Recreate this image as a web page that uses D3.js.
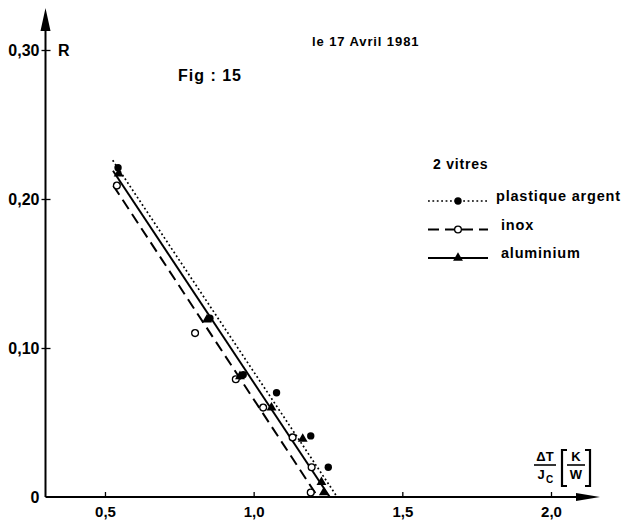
<!DOCTYPE html>
<html><head><meta charset="utf-8">
<script src="https://cdn.jsdelivr.net/npm/d3@7"></script>
<style>
body{margin:0;background:#fff}
svg{display:block}
text{font-family:"Liberation Sans",Arial,sans-serif;font-weight:bold;fill:#000}
</style>
</head><body>
<svg id="c" width="641" height="521"></svg>
<script>
// ---- data ----
const xTicks = [0.5, 1.0, 1.5, 2.0];
const xTickLabels = ["0,5", "1,0", "1,5", "2,0"];
const yTicks = [0, 0.1, 0.2, 0.3];
const yTickLabels = ["0", "0,10", "0,20", "0,30"];

const seriesNames = ["plastique argent", "inox", "aluminium"];

// plastique argent (filled dots)
const plastiqueX = [0.544, 0.853, 0.965, 1.077, 1.192, 1.251];
const plastiqueY = [0.221, 0.120, 0.082, 0.070, 0.041, 0.020];
// inox (open circles)
const inoxX = [0.540, 0.803, 0.940, 1.032, 1.131, 1.195, 1.192];
const inoxY = [0.209, 0.110, 0.079, 0.060, 0.040, 0.020, 0.003];
// aluminium (filled triangles)
const aluX = [0.546, 0.843, 0.954, 1.060, 1.165, 1.228, 1.236];
const aluY = [0.217, 0.119, 0.081, 0.060, 0.039, 0.010, 0.003];

// fitted straight lines (end points)
const plastiqueLineX = [0.526, 1.281];
const plastiqueLineY = [0.226, 0.0];
const inoxLineX = [0.528, 1.216];
const inoxLineY = [0.209, 0.0];
const aluLineX = [0.527, 1.256];
const aluLineY = [0.219, 0.0];

// ---- drawing ----
const svg = d3.select("#c");
const x = d3.scaleLinear().domain([0.3, 2.0]).range([45.5, 551]);
const y = d3.scaleLinear().domain([0, 0.3]).range([497, 50]);

const x0 = x(0.3), y0 = y(0);

// axes lines with arrows
svg.append("line").attr("x1", x0).attr("x2", x0).attr("y1", y0).attr("y2", 26)
  .attr("stroke", "#000").attr("stroke-width", 2);
svg.append("path").attr("d", `M${x0},8 L${x0-5},31 L${x0+5},31 Z`).attr("fill", "#000");
svg.append("line").attr("x1", x0).attr("x2", 580).attr("y1", y0).attr("y2", y0)
  .attr("stroke", "#000").attr("stroke-width", 2);
svg.append("path").attr("d", `M600,${y0} L576,${y0-4} L576,${y0+4} Z`).attr("fill", "#000");

// x axis ticks
const gx = svg.append("g").attr("transform", `translate(0,${y0})`)
  .call(d3.axisBottom(x).tickValues(xTicks)
    .tickFormat((d, i) => xTickLabels[i])
    .tickSizeInner(-5).tickSizeOuter(0).tickPadding(9));
gx.select(".domain").remove();
gx.selectAll(".tick line").attr("stroke", "#000").attr("stroke-width", 1.3);
gx.selectAll(".tick text").attr("font-size", 15).attr("font-family", "Liberation Sans, Arial, sans-serif")
  .attr("font-weight", "bold").attr("fill", "#000");

// y axis ticks
const gy = svg.append("g").attr("transform", `translate(${x0},0)`)
  .call(d3.axisLeft(y).tickValues(yTicks)
    .tickFormat((d, i) => yTickLabels[i])
    .tickSizeInner(4).tickSizeOuter(0).tickPadding(2));
gy.select(".domain").remove();
gy.selectAll(".tick line").attr("x1", 5).attr("stroke", "#000").attr("stroke-width", 1.3)
  .filter(d => d === 0).remove();
gy.selectAll(".tick text").attr("font-size", 16).attr("font-family", "Liberation Sans, Arial, sans-serif")
  .attr("font-weight", "bold").attr("fill", "#000").attr("dy", "0.36em");

// titles
svg.append("text").attr("x", 58).attr("y", 56).attr("font-size", 16).text("R");
svg.append("text").attr("x", 312).attr("y", 46).attr("font-size", 13).attr("letter-spacing", 0.9).text("le 17 Avril 1981");
svg.append("text").attr("x", 178).attr("y", 81).attr("font-size", 16).attr("letter-spacing", 1).text("Fig : 15");

// x axis label: ΔT/Jc [K/W]
const lab = svg.append("g");
lab.append("text").attr("x", 545).attr("y", 461).attr("font-size", 13).attr("text-anchor", "middle").text("ΔT");
lab.append("line").attr("x1", 534).attr("x2", 556).attr("y1", 465).attr("y2", 465).attr("stroke", "#000").attr("stroke-width", 1.6);
lab.append("text").attr("x", 541).attr("y", 479).attr("font-size", 13).attr("text-anchor", "middle").text("J");
lab.append("text").attr("x", 549.5).attr("y", 483).attr("font-size", 10).attr("text-anchor", "middle").text("C");
lab.append("path").attr("d", "M567,450 L562,450 L562,486 L567,486").attr("fill", "none").attr("stroke", "#000").attr("stroke-width", 2.2);
lab.append("text").attr("x", 576).attr("y", 461).attr("font-size", 13).attr("text-anchor", "middle").text("K");
lab.append("line").attr("x1", 567).attr("x2", 585).attr("y1", 465).attr("y2", 465).attr("stroke", "#000").attr("stroke-width", 1.6);
lab.append("text").attr("x", 576).attr("y", 479).attr("font-size", 13).attr("text-anchor", "middle").text("W");
lab.append("path").attr("d", "M585,450 L590,450 L590,486 L585,486").attr("fill", "none").attr("stroke", "#000").attr("stroke-width", 2.2);

// line styles
const styles = {
  "plastique argent": {dash: "1.8,2.6", width: 1.7},
  "inox": {dash: "11,6", width: 2},
  "aluminium": {dash: null, width: 2}
};
const lineGen = d3.line().x(d => x(d[0])).y(d => y(d[1]));
function drawFit(xs, ys, st) {
  svg.append("path").attr("d", lineGen(d3.zip(xs, ys)))
    .attr("fill", "none").attr("stroke", "#000").attr("stroke-width", st.width)
    .attr("stroke-dasharray", st.dash);
}
drawFit(plastiqueLineX, plastiqueLineY, styles["plastique argent"]);
drawFit(inoxLineX, inoxLineY, styles["inox"]);
drawFit(aluLineX, aluLineY, styles["aluminium"]);

// markers
function marker(g, kind) {
  if (kind === "plastique argent") {
    g.append("circle").attr("r", 3.7).attr("fill", "#000");
  } else if (kind === "inox") {
    g.append("circle").attr("r", 3.4).attr("fill", "#fff").attr("stroke", "#000").attr("stroke-width", 1.3);
  } else {
    g.append("path").attr("d", d3.symbol(d3.symbolTriangle, 42)()).attr("fill", "#000");
  }
}
function drawPoints(xs, ys, kind) {
  d3.zip(xs, ys).forEach(p => {
    const g = svg.append("g").attr("transform", `translate(${x(p[0])},${y(p[1])})`);
    marker(g, kind);
  });
}
drawPoints(inoxX, inoxY, "inox");
drawPoints(aluX, aluY, "aluminium");
drawPoints(plastiqueX, plastiqueY, "plastique argent");

// legend
svg.append("text").attr("x", 433).attr("y", 169).attr("font-size", 14).attr("letter-spacing", 0.8).text("2 vitres");
const legRows = [201, 229.5, 258];
const legTextX = [496, 501, 501];
seriesNames.forEach((name, i) => {
  const yy = legRows[i];
  const st = styles[name];
  svg.append("line").attr("x1", 428).attr("x2", 488).attr("y1", yy).attr("y2", yy)
    .attr("stroke", "#000").attr("stroke-width", st.width).attr("stroke-dasharray", st.dash);
  const g = svg.append("g").attr("transform", `translate(458,${yy})`);
  marker(g, name);
  svg.append("text").attr("x", legTextX[i]).attr("y", yy).attr("font-size", 14.5).attr("letter-spacing", 0.8).text(name);
});
</script>
</body></html>
